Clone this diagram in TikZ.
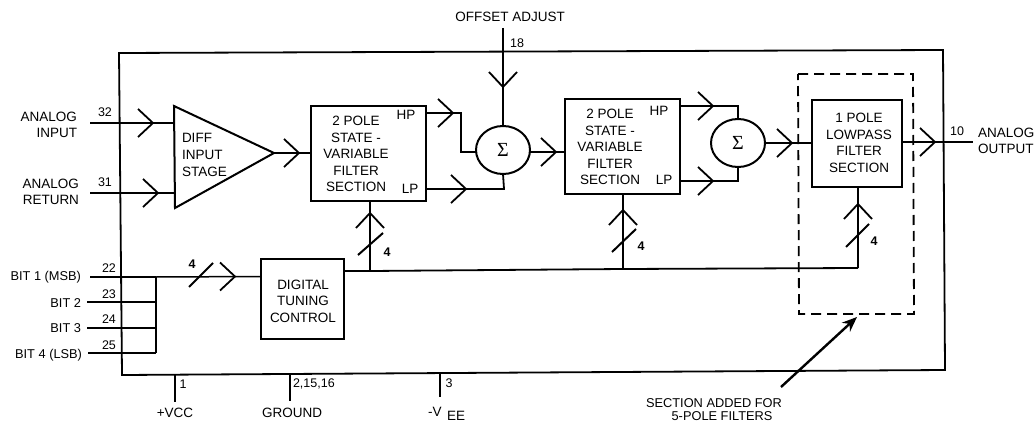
\documentclass[tikz,border=0pt]{standalone}
\usepackage{fontspec}
\setmainfont{Liberation Sans}
\newfontfamily\sigmafont{Liberation Serif}
\usetikzlibrary{arrows.meta,shapes.geometric}
\tikzset{
  x=1pt,y=-1pt,
  every node/.style={inner sep=0pt,outer sep=0pt,text=black},
  wire/.style={draw=black,line width=1.8pt,line join=miter},
  thinwire/.style={draw=black,line width=1.5pt},
  chevron/.pic={\draw[draw=black,line width=1.8pt,miter limit=10] (-15,-14) -- (0,0) -- (-15,14);},
  fbox/.style={draw=black,line width=2pt,align=center,anchor=center,font=\fontsize{13.5}{16.6}\selectfont},
  lbl/.style={font=\fontsize{13.5}{16.6}\selectfont,align=center},
  lblsm/.style={font=\fontsize{12.8}{16.6}\selectfont,align=center},
  lblr/.style={font=\fontsize{13.5}{16.6}\selectfont,align=right,anchor=east},
  lblrsm/.style={font=\fontsize{12.8}{16.6}\selectfont,align=right,anchor=east},
  lbll/.style={font=\fontsize{13.5}{16.6}\selectfont,align=left,anchor=west},
  pin/.style={font=\fontsize{12.5}{14}\selectfont},
  busn/.style={font=\bfseries\fontsize{12.5}{14}\selectfont},
  summer/.style={draw=black,line width=2pt,ellipse,minimum width=54pt,minimum height=48pt,font=\sigmafont\fontsize{20}{20}\selectfont},
  slash/.style={draw=black,line width=2pt},
  dashbox/.style={draw=black,line width=1.8pt,dash pattern=on 10pt off 6pt},
  pointer/.style={draw=black,line width=2.4pt,-{Stealth[length=15pt,width=12pt]}}
}
\begin{document}
\begin{tikzpicture}
\useasboundingbox (0,0) rectangle (1035,422);
% outer frame
\coordinate (fTL) at (119,53);
\coordinate (fTR) at (943,50);
\coordinate (fBR) at (945,370);
\coordinate (fBL) at (122,375);
\draw[wire] (fTL) -- (fTR) -- (fBR) -- (fBL) -- cycle;
% dashed section
\coordinate (dTL) at (798,74);
\coordinate (dTR) at (913,74);
\coordinate (dBR) at (914,314);
\coordinate (dBL) at (799,314);
\draw[dashbox] (dTL) -- (dTR) -- (dBR) -- (dBL) -- cycle;
% blocks
\coordinate (triA) at (174,106);
\coordinate (triB) at (175,208);
\coordinate (triC) at (274,153);
\draw[wire,line width=2pt,line join=miter] (triA) -- (triC) -- (triB) -- cycle;
\node[lbll] (diff) at (182,155) {DIFF\\INPUT\\STAGE};
\node[fbox,minimum width=115pt,minimum height=95pt] (b1) at (368.5,153.5) {};
\node[lbl] (b1t) at (356,154) {2 POLE\\STATE -\\VARIABLE\\FILTER\\SECTION};
\node[fbox,minimum width=115pt,minimum height=95pt] (b2) at (622.5,146.5) {};
\node[lbl] (b2t) at (610,147) {2 POLE\\STATE -\\VARIABLE\\FILTER\\SECTION};
\node[fbox,minimum width=90pt,minimum height=87pt] (b3) at (857,143.5) {};
\node[lbl] (b3t) at (859,143) {1 POLE\\LOWPASS\\FILTER\\SECTION};
\node[fbox,minimum width=83pt,minimum height=80pt] (dtc) at (302.5,299) {};
\node[lbl] (dtct) at (303,301) {DIGITAL\\TUNING\\CONTROL};
\node[summer] (s1) at (503,150) {Σ};
\node[summer] (s2) at (738,143) {Σ};
% signal path
\coordinate (inL) at (90,123);  \coordinate (inT) at (153,123);  \coordinate (inE) at (174,123);
\coordinate (retL) at (90,193); \coordinate (retT) at (158,193); \coordinate (retE) at (175,193);
\draw[wire] (inL) -- (inE);   \pic at (inT) {chevron};
\draw[wire] (retL) -- (retE); \pic at (retT) {chevron};
\coordinate (triT) at (299,153); \coordinate (b1W) at (b1.west |- triC);
\draw[wire] (triC) -- (b1W);  \pic at (triT) {chevron};
% box1 to sum1
\coordinate (b1hp) at (426,113); \coordinate (b1hpT) at (453,113); \coordinate (b1hpC) at (461,113);
\coordinate (s1w) at (461,152);
\draw[wire] (b1hp) -- (b1hpC) -- (s1w) -- (s1.west |- s1w); \pic at (b1hpT) {chevron};
\coordinate (b1lp) at (426,189); \coordinate (b1lpT) at (466,189); \coordinate (b1lpC) at (504,189);
\draw[wire] (b1lp) -- (b1lpC) -- (s1.south); \pic at (b1lpT) {chevron};
% offset
\coordinate (offS) at (503,28); \coordinate (offT) at (503,87);
\draw[wire] (offS) -- (s1.north); \pic[rotate=-90] at (offT) {chevron};
% sum1 to box2
\coordinate (s1e) at (530,152); \coordinate (s1T) at (556,152); \coordinate (b2w) at (565,152);
\draw[wire] (s1e) -- (b2w); \pic at (s1T) {chevron};
% box2 to sum2
\coordinate (b2hp) at (680,106); \coordinate (b2hpT) at (713,106); \coordinate (b2hpC) at (738,106);
\draw[wire] (b2hp) -- (b2hpC) -- (s2.north); \pic at (b2hpT) {chevron};
\coordinate (b2lp) at (680,181); \coordinate (b2lpT) at (713,181); \coordinate (b2lpC) at (738,181);
\draw[wire] (b2lp) -- (b2lpC) -- (s2.south); \pic at (b2lpT) {chevron};
% sum2 to box3
\coordinate (s2T) at (792,143);
\draw[wire] (s2.east) -- (b3.west |- s2T); \pic at (s2T) {chevron};
% box3 output
\coordinate (b3e) at (902,142); \coordinate (outT) at (935,142); \coordinate (outR) at (973,142);
\draw[wire] (b3e) -- (outR); \pic at (outT) {chevron};
% digital inputs
\coordinate (bit1L) at (90,277); \coordinate (bit2L) at (87,302); \coordinate (bit3L) at (87,328); \coordinate (bit4L) at (88,353);
\coordinate (bit1J) at (156,277); \coordinate (bit2J) at (156,302); \coordinate (bit3J) at (156,328); \coordinate (bit4J) at (156,353);
\coordinate (busT) at (235,276.5);
\draw[wire] (bit1L) -- (bit1J);
\draw[thinwire] (bit2L) -- (bit2J);
\draw[thinwire] (bit3L) -- (bit3J);
\draw[thinwire] (bit4L) -- (bit4J);
\draw[wire] (bit1J) -- (bit4J);
\draw[thinwire] (bit1J) -- (dtc.west |- busT);
\pic at (busT) {chevron};
\coordinate (s0a) at (189,287); \coordinate (s0b) at (213,263);
\draw[slash] (s0a) -- (s0b);
% tuning bus
\coordinate (tunE) at (344,271); \coordinate (tun1) at (370,271); \coordinate (tun2) at (623,269); \coordinate (tun3) at (858,268);
\draw[wire] (tunE) -- (tun1) -- (tun2) -- (tun3);
\coordinate (t1T) at (370,213); \coordinate (t1E) at (370,201); \draw[wire] (tun1) -- (t1E); \pic[rotate=90] at (t1T) {chevron};
\coordinate (t2T) at (623,210); \coordinate (t2E) at (623,194); \draw[wire] (tun2) -- (t2E); \pic[rotate=90] at (t2T) {chevron};
\coordinate (t3T) at (858,204); \coordinate (t3E) at (858,187); \draw[wire] (tun3) -- (t3E); \pic[rotate=90] at (t3T) {chevron};
\coordinate (s1a) at (358,255); \coordinate (s1b) at (383,233); \draw[slash] (s1a) -- (s1b);
\coordinate (s2a) at (612,252); \coordinate (s2b) at (636,229); \draw[slash] (s2a) -- (s2b);
\coordinate (s3a) at (846,247); \coordinate (s3b) at (869,224); \draw[slash] (s3a) -- (s3b);
% supply pins
\coordinate (vccT) at (175,374.5); \coordinate (vccB) at (175,402);
\coordinate (gndT) at (290,374);   \coordinate (gndB) at (290,401);
\coordinate (veeT) at (440,373.5); \coordinate (veeB) at (440,397);
\draw[thinwire] (vccT) -- (vccB);
\draw[thinwire] (gndT) -- (gndB);
\draw[thinwire] (veeT) -- (veeB);
% pointer
\coordinate (ptrS) at (781,387); \coordinate (ptrE) at (857,317);
\draw[pointer] (ptrS) -- (ptrE);
% labels
\node[lblr] (lain) at (77,125) {ANALOG\\INPUT};
\node[lblr] (lret) at (79,192) {ANALOG\\RETURN};
\node[lbll] (laout) at (978,141) {ANALOG\\OUTPUT};
\node[lbl] (loff) at (510,17) {OFFSET ADJUST};
\node[lblrsm] (lb1) at (81,277) {BIT 1 (MSB)};
\node[lblrsm] (lb2) at (81,303) {BIT 2};
\node[lblrsm] (lb3) at (81,328) {BIT 3};
\node[lblrsm] (lb4) at (82,355) {BIT 4 (LSB)};
\node[pin] (p32) at (105,112) {32};
\node[pin] (p31) at (105,182) {31};
\node[pin] (p22) at (109,268) {22};
\node[pin] (p23) at (109,294) {23};
\node[pin] (p24) at (109,319) {24};
\node[pin] (p25) at (109,345) {25};
\node[pin] (p18) at (517,43) {18};
\node[pin] (p10) at (957,131) {10};
\node[pin] (p1) at (183,384) {1};
\node[pin,anchor=west] (p2) at (293,384) {2,15,16};
\node[pin] (p3) at (449,383) {3};
\node[lbl] (hp1) at (406,115) {HP};
\node[lbl] (lp1) at (410,189) {LP};
\node[lbl] (hp2) at (659,111) {HP};
\node[lbl] (lp2) at (664,180) {LP};
\node[busn] (n0) at (192,264) {4};
\node[busn] (n1) at (387,252) {4};
\node[busn] (n2) at (641,246) {4};
\node[busn] (n3) at (874,241) {4};
\node[lbl] (lvcc) at (175,413) {+VCC};
\node[lbl] (lgnd) at (292,413) {GROUND};
\node[lbl,anchor=base west] (lvee) at (428,416) {-V};
\node[lbl,anchor=base west] (lee) at (447,420.5) {EE};
\node[lblsm,anchor=base] (lsec) at (714,407) {SECTION ADDED FOR};
\node[lblsm,anchor=base] (lsec2) at (722,420.5) {5-POLE FILTERS};
\end{tikzpicture}
\end{document}
